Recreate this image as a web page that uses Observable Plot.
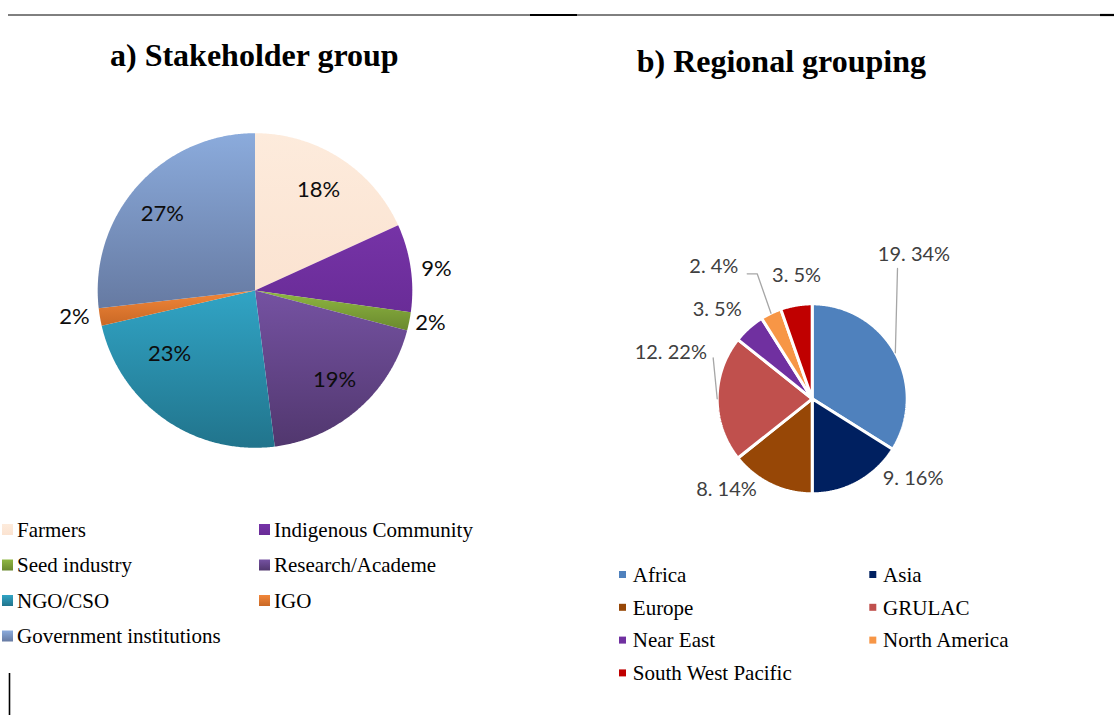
<!DOCTYPE html>
<html><head><meta charset="utf-8">
<script src="https://cdn.jsdelivr.net/npm/d3@7"></script>
<script src="https://cdn.jsdelivr.net/npm/@observablehq/plot@0.6"></script>
<style>
body{margin:0;background:#fff;}
#chart{position:relative;width:1114px;height:715px;overflow:hidden;}
</style></head><body>
<svg width="0" height="0" style="position:absolute;left:0;top:0"><defs id="grads"></defs></svg>
<div id="chart"></div>
<script>
// ---- data ----
const stakeholders = ["Farmers","Indigenous Community","Seed industry","Research/Academe","NGO/CSO","IGO","Government institutions"];
const stakeholderShare = [18.2, 9.0, 1.9, 18.9, 23.4, 1.8, 26.8];
const stakeholderTop = ["#fdebdc","#7633a7","#8fb742","#7552a2","#31a4c5","#f2873a","#8babdc"];
const stakeholderBottom = ["#fbe3d1","#692c97","#6a892e","#51376e","#21748c","#c96825","#667aa2"];

const regions = ["Africa","Asia","Europe","GRULAC","Near East","North America","South West Pacific"];
const regionCounts = [19, 9, 8, 12, 3, 2, 3];
const regionPct = [34, 16, 14, 22, 5, 4, 5];
const regionColors = ["#4f81bd","#002060","#974706","#c0504d","#7030a0","#f79646","#c00000"];

const titleA = "a) Stakeholder group";
const titleB = "b) Regional grouping";

// ---- layout ----
const pieA = {cx: 254.5, cy: 290, R: 157.3};
const pieB = {cx: 811.7, cy: 398.3, R: 95};
// label placement: [angle in degrees clockwise from 12 o'clock, distance in radii]
const labelPolarA = [[32.3,0.756],[83.1,1.162],[100.6,1.135],[138.4,0.761],[233.6,0.675],[261.8,1.159],[309.6,0.765]];
const labelPolarB = [[35.2,1.859],[128.3,1.353],[223.4,1.313],[288.2,1.567],[313.2,1.372],[323.3,1.733],[352.8,1.311]];
// leader elbows relative to the label centre
const leaderB = {"Africa": [[-16.5,14]], "GRULAC": [[42.4,5.6]], "North America": [[43.4,7],[33.4,7]]};

// ---- gradients for panel a ----
const defs = d3.select("#grads");
const gradUrls = stakeholders.map((s, i) => {
  const id = "g" + i;
  const g = defs.append("linearGradient").attr("id", id).attr("x1", 0).attr("y1", 0).attr("x2", 0).attr("y2", 1);
  g.append("stop").attr("offset", "0%").attr("stop-color", stakeholderTop[i]);
  g.append("stop").attr("offset", "100%").attr("stop-color", stakeholderBottom[i]);
  return `url(#${id})`;
});

// ---- geometry from data ----
function slicePoints(names, values, p) {
  const arcs = d3.pie().sort(null).value(d => d)(values);
  const pts = [];
  arcs.forEach((a, i) => {
    const n = Math.max(2, Math.ceil((a.endAngle - a.startAngle) / (Math.PI / 360)));
    pts.push({name: names[i], x: p.cx, y: p.cy});
    for (let j = 0; j <= n; j++) {
      const t = a.startAngle + (a.endAngle - a.startAngle) * j / n;
      pts.push({name: names[i], x: p.cx + p.R * Math.sin(t), y: p.cy - p.R * Math.cos(t)});
    }
  });
  return {pts, arcs};
}
const A = slicePoints(stakeholders, stakeholderShare, pieA);
const B = slicePoints(regions, regionCounts, pieB);
const polar = (p, deg, k) => ({x: p.cx + k * p.R * Math.sin(deg * Math.PI / 180), y: p.cy - k * p.R * Math.cos(deg * Math.PI / 180)});

const labelsA = stakeholders.map((s, i) => ({...polar(pieA, ...labelPolarA[i]), text: Math.round(stakeholderShare[i]) + "%"}));
const labelsB = regions.map((s, i) => ({...polar(pieB, ...labelPolarB[i]), text: regionCounts[i] + ". " + regionPct[i] + "%", name: s}));

const leaders = [];
labelsB.forEach((l, i) => {
  const el = leaderB[l.name];
  if (!el) return;
  const a = B.arcs[i];
  const mid = (a.startAngle + a.endAngle) / 2;
  leaders.push({name: l.name, x: pieB.cx + pieB.R * Math.sin(mid), y: pieB.cy - pieB.R * Math.cos(mid)});
  el.forEach(([dx, dy]) => leaders.push({name: l.name, x: l.x + dx, y: l.y + dy}));
});

const legendA = stakeholders.map((s, i) => {
  const col = i % 2, row = Math.floor(i / 2);
  const x = col ? 259 : 2, y = 529.5 + row * 35.5;
  return {name: s, x1: x, x2: x + 11, y1: y - 5.5, y2: y + 5.5, tx: x + 14.5, y};
});
const legendB = regions.map((s, i) => {
  const col = i % 2, row = Math.floor(i / 2);
  const x = col ? 869.3 : 619, y = 574.5 + row * 32.8;
  return {name: s, x1: x, x2: x + 7, y1: y - 3.5, y2: y + 3.5, tx: x + 13.3, y};
});

const decor = [{y: 14.5, x1: 8, x2: 1114, w: 1}, {y: 14.5, x1: 530, x2: 577, w: 2.2}, {y: 14.5, x1: 1100, x2: 1114, w: 2.2}];

const chart = Plot.plot({
  width: 1114, height: 715, margin: 0,
  x: {domain: [0, 1114], range: [0, 1114], axis: null},
  y: {domain: [0, 715], range: [0, 715], axis: null},
  color: {type: "ordinal", domain: [...stakeholders, ...regions], range: [...gradUrls, ...regionColors]},
  style: {background: "#fff", overflow: "visible"},
  marks: [
    Plot.ruleY(decor, {y: "y", x1: "x1", x2: "x2", stroke: "#000", strokeWidth: d => d.w}),
    Plot.ruleX([{x: 9, y1: 673, y2: 715}], {x: "x", y1: "y1", y2: "y2", stroke: "#000", strokeWidth: 1.6}),
    // panel a
    Plot.line(A.pts, {x: "x", y: "y", z: "name", fill: "name", stroke: null, curve: "linear-closed"}),
    Plot.text(labelsA, {x: "x", y: "y", text: "text", fontFamily: "Lato", fontSize: 22, fill: "#0d0d0d"}),
    Plot.text([titleA], {x: 253.8, y: 65, text: d => d, lineAnchor: "bottom", fontFamily: "Liberation Serif", fontWeight: "bold", fontSize: 32, fill: "#000"}),
    Plot.rect(legendA, {x1: "x1", x2: "x2", y1: "y1", y2: "y2", fill: "name"}),
    Plot.text(legendA, {x: "tx", y: "y", text: "name", textAnchor: "start", fontFamily: "Liberation Serif", fontSize: 21, fill: "#000"}),
    // panel b
    Plot.line(B.pts, {x: "x", y: "y", z: "name", fill: "name", stroke: "#fff", strokeWidth: 3, strokeLinejoin: "miter", curve: "linear-closed"}),
    Plot.line(leaders, {x: "x", y: "y", z: "name", stroke: "#a6a6a6", strokeWidth: 1.3, strokeLinejoin: "miter"}),
    Plot.text(labelsB, {x: "x", y: "y", text: "text", fontFamily: "Lato", fontSize: 20, fill: "#404040"}),
    Plot.text([titleB], {x: 780.8, y: 71.7, text: d => d, lineAnchor: "bottom", fontFamily: "Liberation Serif", fontWeight: "bold", fontSize: 32, fill: "#000"}),
    Plot.rect(legendB, {x1: "x1", x2: "x2", y1: "y1", y2: "y2", fill: "name"}),
    Plot.text(legendB, {x: "tx", y: "y", text: "name", textAnchor: "start", fontFamily: "Liberation Serif", fontSize: 21, fill: "#000"})
  ]
});
document.getElementById("chart").appendChild(chart);
</script>
</body></html>
